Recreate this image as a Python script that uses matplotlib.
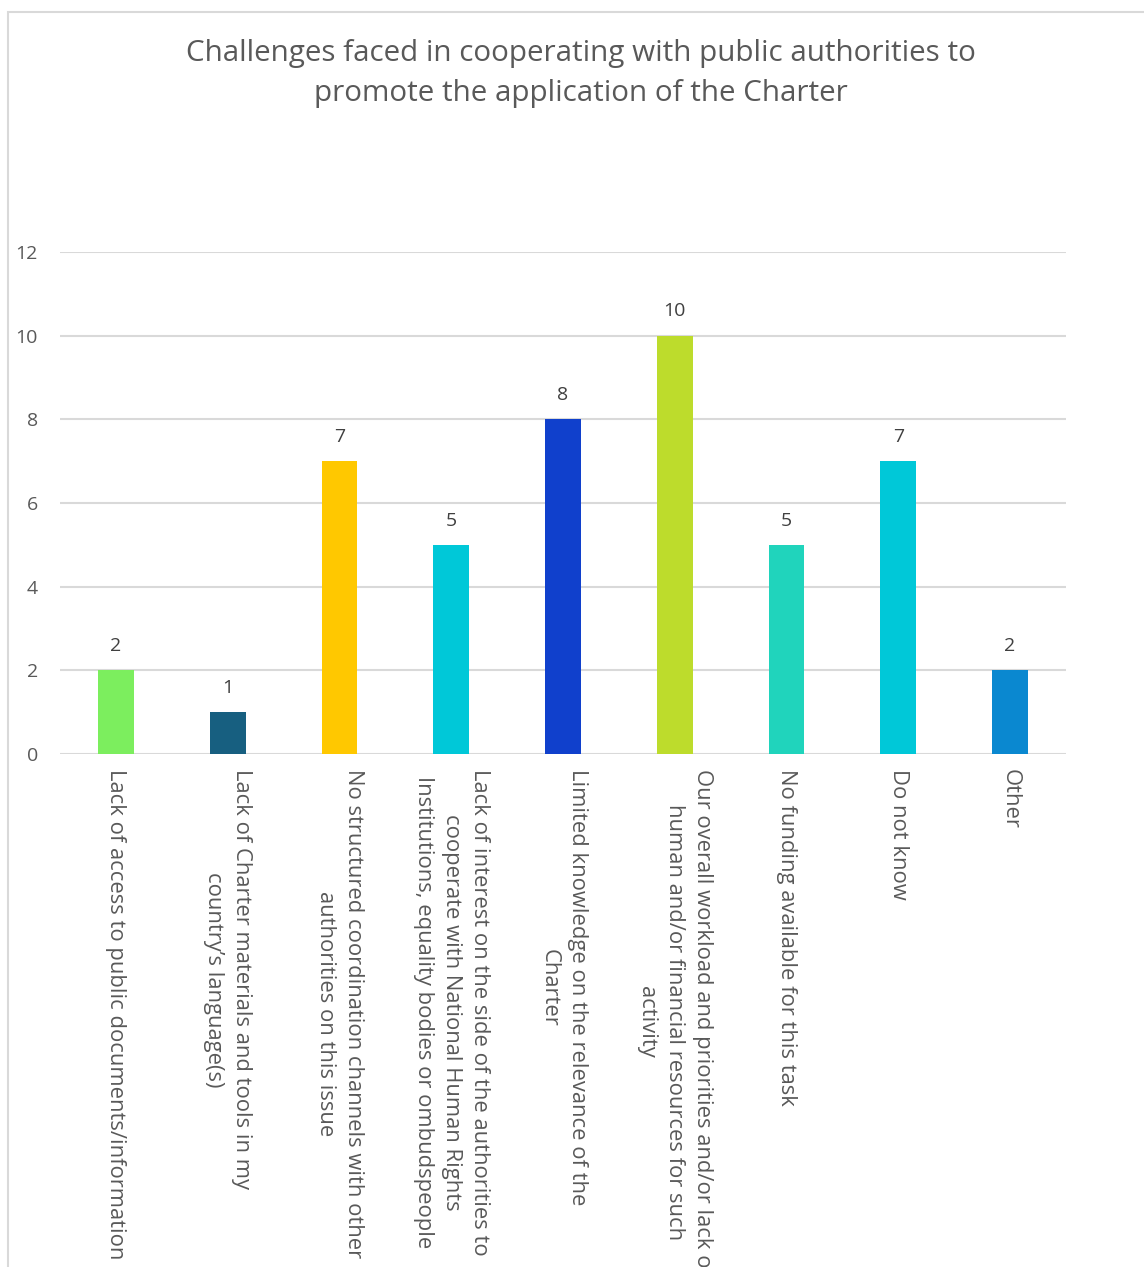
import matplotlib
matplotlib.use("Agg")
import matplotlib.pyplot as plt
from matplotlib.patches import Rectangle

categories = [
    "Lack of access to public documents/information",
    "Lack of Charter materials and tools in my\ncountry\u2019s language(s)",
    "No structured coordination channels with other\nauthorities on this issue",
    "Lack of interest on the side of the authorities to\ncooperate with National Human Rights\nInstitutions, equality bodies or ombudspeople",
    "Limited knowledge on the relevance of the\nCharter",
    "Our overall workload and priorities and/or lack of\nhuman and/or financial resources for such\nactivity",
    "No funding available for this task",
    "Do not know",
    "Other",
]
values = [2, 1, 7, 5, 8, 10, 5, 7, 2]
colors = ["#7CEE5E", "#175F80", "#FFC800", "#00C8D8", "#1040CC",
          "#BDDC2C", "#20D4BC", "#00C8D8", "#0A88D0"]
yticks = [0, 2, 4, 6, 8, 10, 12]
title = "Challenges faced in cooperating with public authorities to\npromote the application of the Charter"

W, H = 1144, 1267
plt.rcParams["font.family"] = ["Open Sans", "DejaVu Sans"]
fig = plt.figure(figsize=(W / 100, H / 100), dpi=100)
fig.patch.set_facecolor("white")

# outer chart frame
fig.add_artist(Rectangle((8 / W, -0.05), 1.2, 1 - 12 / H + 0.05,
                         transform=fig.transFigure, fill=False,
                         edgecolor="#D9D9D9", linewidth=1.5))

ax = fig.add_axes([60 / W, 1 - 754 / H, (1066 - 60) / W, (754 - 252) / H])
x = list(range(len(categories)))
bars = ax.bar(x, values, width=0.32, color=colors, zorder=3)
ax.set_xlim(-0.5, len(categories) - 0.5)
ax.set_ylim(0, 12)
ax.set_yticks(yticks)
ax.set_yticklabels([str(t) for t in yticks], fontsize=14, color="#595959")
ax.tick_params(axis="y", length=0, pad=16)
ax.tick_params(axis="x", length=0, pad=11)
ax.set_xticks(x)
ax.set_xticklabels(categories, rotation=-90, ha="center", va="top",
                   multialignment="center", fontsize=15.8, color="#595959",
                   linespacing=1.45)
ax.grid(axis="y", color="#D9D9D9", linewidth=1.5, zorder=0)
ax.set_axisbelow(True)
for s in ax.spines.values():
    s.set_visible(False)

for rect, v in zip(bars, values):
    ax.annotate(str(v), (rect.get_x() + rect.get_width() / 2, v),
                xytext=(0, 11), textcoords="offset points",
                ha="center", va="bottom", fontsize=14, color="#404040")

fig.text(0.508, 1 - 73.5 / H, title, ha="center", va="center",
         fontsize=21.3, color="#595959", linespacing=1.47)

fig.savefig("out.png", dpi=100)
